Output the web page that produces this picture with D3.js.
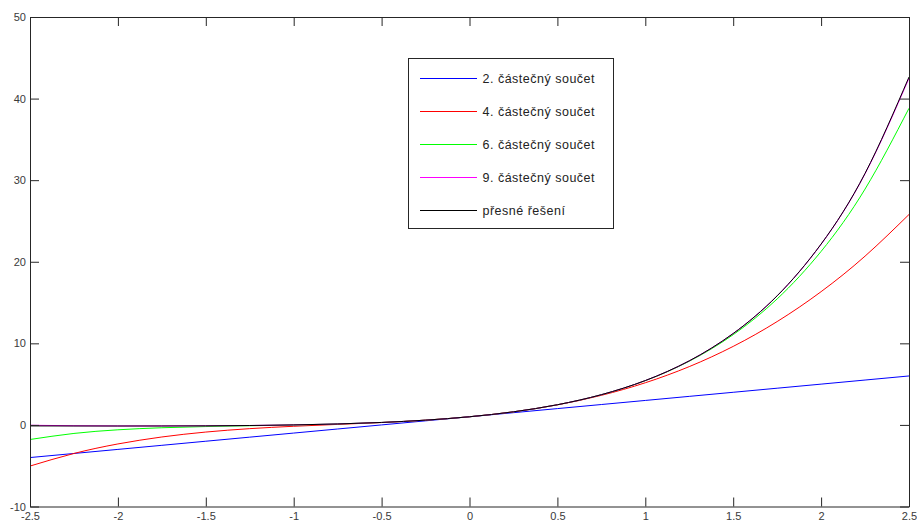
<!DOCTYPE html>
<html>
<head>
<meta charset="utf-8">
<script src="https://cdn.jsdelivr.net/npm/d3@7"></script>
<style>
  html, body { margin: 0; padding: 0; background: #fff; }
  svg { display: block; }
  text { font-family: "Liberation Sans", Arial, sans-serif; }
</style>
</head>
<body>
<svg id="chart" width="917" height="523"></svg>
<script>
// Sample points (x) and the values of each partial sum at those points
const xs = [-2.5, -2.25, -2, -1.75, -1.5, -1.25, -1, -0.75, -0.5, -0.25, 0,
            0.25, 0.5, 0.75, 1, 1.25, 1.5, 1.75, 2, 2.25, 2.5];

const sum2 = [-4, -3.5, -3, -2.5, -2, -1.5, -1, -0.5, 0, 0.5, 1,
              1.5, 2, 2.5, 3, 3.5, 4, 4.5, 5, 5.5, 6];

const sum4 = [-5.042, -3.5, -2.333, -1.479, -0.875, -0.458, -0.167, 0.063, 0.292, 0.583, 1,
              1.604, 2.458, 3.625, 5.167, 7.146, 9.625, 12.667, 16.333, 20.688, 25.792];

const sum6 = [-1.787, -1.044, -0.6, -0.346, -0.2, -0.102, -0.008, 0.117, 0.303, 0.584, 1,
              1.605, 2.473, 3.703, 5.425, 7.807, 11.059, 15.441, 21.267, 28.910, 38.813];

const sum9 = [-0.041, -0.099, -0.124, -0.127, -0.111, -0.072, 0, 0.118, 0.303, 0.584, 1,
              1.605, 2.473, 3.705, 5.437, 7.853, 11.203, 15.820, 22.149, 30.782, 42.496];

const exact = [-0.123, -0.132, -0.135, -0.130, -0.112, -0.072, 0, 0.118, 0.303, 0.584, 1,
               1.605, 2.473, 3.705, 5.437, 7.853, 11.204, 15.825, 22.167, 30.835, 42.639];

const seriesNames = ["2. částečný součet", "4. částečný součet", "6. částečný součet",
                     "9. částečný součet", "přesné řešení"];
const seriesColors = ["#0000ff", "#ff0000", "#00ff00", "#ff00ff", "#000000"];
const seriesValues = [sum2, sum4, sum6, sum9, exact];

const xTicks = [-2.5, -2, -1.5, -1, -0.5, 0, 0.5, 1, 1.5, 2, 2.5];
const yTicks = [-10, 0, 10, 20, 30, 40, 50];

const svg = d3.select("#chart");
const plotLeft = 30, plotRight = 909, plotTop = 17, plotBottom = 506.5;

const x = d3.scaleLinear().domain([-2.5, 2.5]).range([plotLeft, plotRight]);
const y = d3.scaleLinear().domain([-10, 50]).range([plotBottom, plotTop]);

svg.append("defs").append("clipPath").attr("id", "plotClip")
  .append("rect").attr("x", plotLeft).attr("y", plotTop)
  .attr("width", plotRight - plotLeft).attr("height", plotBottom - plotTop);

// Curves
const line = d3.line()
  .x((d, i) => x(xs[i]))
  .y(d => y(d))
  .curve(d3.curveNatural);

const plot = svg.append("g").attr("clip-path", "url(#plotClip)");
seriesValues.forEach((vals, k) => {
  plot.append("path")
    .datum(vals)
    .attr("fill", "none")
    .attr("stroke", seriesColors[k])
    .attr("stroke-width", 1)
    .attr("d", line);
});

// Axes box with inward ticks on all four sides
const axisColor = "#262626";
const tickLen = 9;
const bottomAxis = d3.axisBottom(x).tickValues(xTicks).tickSizeInner(-tickLen).tickSizeOuter(0)
  .tickPadding(6).tickFormat(d => String(d));
const topAxis = d3.axisTop(x).tickValues(xTicks).tickSizeInner(-tickLen).tickSizeOuter(0).tickFormat("");
const leftAxis = d3.axisLeft(y).tickValues(yTicks).tickSizeInner(-tickLen).tickSizeOuter(0)
  .tickPadding(4).tickFormat(d => String(d));
const rightAxis = d3.axisRight(y).tickValues(yTicks).tickSizeInner(-tickLen).tickSizeOuter(0).tickFormat("");

function styleAxis(g) {
  g.select(".domain").attr("stroke", axisColor);
  g.selectAll(".tick line").attr("stroke", axisColor);
  g.selectAll(".tick text").attr("fill", "#3a3a3a").style("font-size", "11px")
    .style("font-family", "'Liberation Sans', Arial, sans-serif");
}

svg.append("g").attr("transform", `translate(0,${plotBottom})`).call(bottomAxis).call(styleAxis);
svg.append("g").attr("transform", `translate(0,${plotTop})`).call(topAxis).call(styleAxis);
svg.append("g").attr("transform", `translate(${plotLeft},0)`).call(leftAxis).call(styleAxis);
svg.append("g").attr("transform", `translate(${plotRight},0)`).call(rightAxis).call(styleAxis);

// Legend
const legX = 408.5, legY = 58.5, legW = 205, legH = 170, rowH = 33;
const legend = svg.append("g");
legend.append("rect")
  .attr("x", legX).attr("y", legY).attr("width", legW).attr("height", legH)
  .attr("fill", "#fff").attr("stroke", axisColor).attr("stroke-width", 1);

seriesNames.forEach((name, k) => {
  const cy = legY + 20 + k * rowH;
  legend.append("line")
    .attr("x1", legX + 11).attr("x2", legX + 68)
    .attr("y1", cy).attr("y2", cy)
    .attr("stroke", seriesColors[k]).attr("stroke-width", 1)
    .attr("shape-rendering", "crispEdges");
  legend.append("text")
    .attr("x", legX + 74).attr("y", cy)
    .attr("dy", "0.35em")
    .attr("fill", "#222")
    .style("font-size", "12.5px")
    .style("letter-spacing", "0.5px")
    .text(name);
});
</script>
</body>
</html>
